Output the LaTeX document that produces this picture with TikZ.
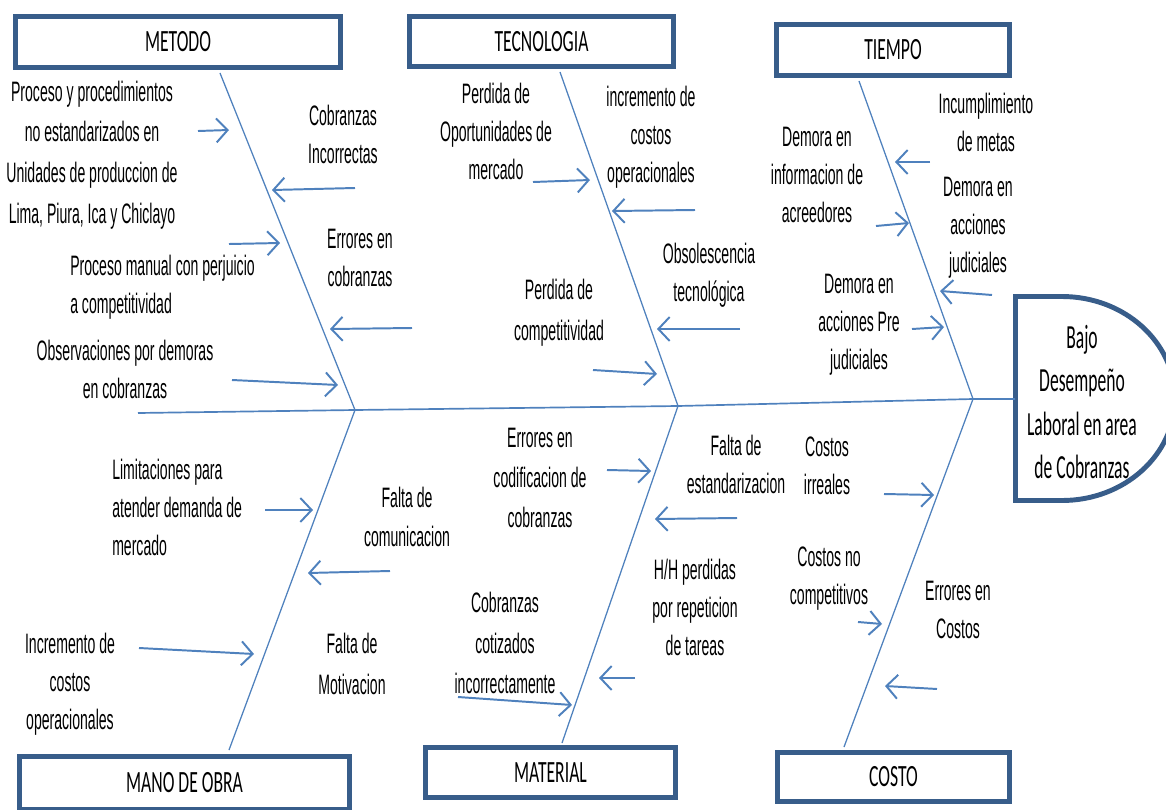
\documentclass[tikz,border=0pt]{standalone}
\usepackage{fontspec}
\setmainfont[FakeStretch=0.5]{Liberation Sans}
\newfontfamily\boxfont[FakeStretch=0.57]{Carlito}
\newfontfamily\headfont[FakeStretch=0.52]{Carlito}
\usetikzlibrary{arrows.meta,calc}
\definecolor{bonecol}{HTML}{4F81BD}
\definecolor{framecol}{HTML}{385D8A}

\begin{document}
\begin{tikzpicture}[x=0.025cm,y=-0.025cm,
    bone/.style={draw=bonecol, line width=0.9pt},
    cause/.style={draw=bonecol, line width=1.4pt, -{Straight Barb[length=8pt,width=17pt]}},
    catbox/.style={draw=framecol, line width=3.5pt, fill=white, inner sep=0pt,
      font=\boxfont\fontsize{22}{26}\selectfont},
    txt/.style={align=center, inner sep=0pt, font=\fontsize{20}{27}\selectfont}]
  \useasboundingbox (0,0) rectangle (1166,810);
  \clip (0,0) rectangle (1166,810);

  % head
  \draw[framecol, line width=3.5pt] (1015.5,296.5) -- (1062,296.5)
    arc[start angle=-90, end angle=90, x radius=113, y radius=102] -- (1015.5,500.5) -- cycle;
  \node[inner sep=0pt, align=center, font=\headfont\fontsize{24}{31}\selectfont] (efecto) at (1082,402)
    {Bajo\\Desempeño\\Laboral en area\\de Cobranzas};

  % categories
  \node[catbox, minimum width=8.125cm, minimum height=1.275cm] (metodo) at (178,42) {METODO};
  \node[catbox, minimum width=6.6cm, minimum height=1.25cm] (tecnologia) at (541.5,41.5) {TECNOLOGIA};
  \node[catbox, minimum width=5.825cm, minimum height=1.275cm] (tiempo) at (893,50) {TIEMPO};
  \node[catbox, minimum width=8.25cm, minimum height=1.325cm] (mano) at (184.5,783) {MANO DE OBRA};
  \node[catbox, minimum width=6.25cm, minimum height=1.25cm] (material) at (550.5,772.5) {MATERIAL};
  \node[catbox, minimum width=5.8cm, minimum height=1.225cm] (costo) at (893.5,777) {COSTO};

  % spine and bones
  \coordinate (cola) at (138,413);
  \coordinate (j1) at (355,410);
  \coordinate (j2) at (678,406);
  \coordinate (j3) at (973,399);
  \coordinate (boca) at (1015,399);
  \draw[bone, line width=1.2pt] (cola) -- (j1) -- (j2) -- (j3) -- (boca);
  \draw[bone] ($(metodo.south)+(42,3)$) -- (j1);
  \draw[bone] ($(tecnologia.south)+(18.5,3)$) -- (j2);
  \draw[bone] ($(tiempo.south)+(-34,3)$) -- (j3);
  \draw[bone] ($(mano.north)+(44.5,-4)$) -- (j1);
  \draw[bone] ($(material.north)+(11.5,-2)$) -- (j2);
  \draw[bone] ($(costo.north)+(-49.5,-3)$) -- (j3);

  % causes
  \node[txt, font=\fontsize{20}{29}\selectfont] (t1) at (92,155)
    {Proceso y procedimientos\\no estandarizados en\\Unidades de produccion de\\Lima, Piura, Ica y Chiclayo};
  \node[txt] (t2) at (343,134) {Cobranzas\\Incorrectas};
  \node[txt] (t3) at (360,258) {Errores en\\cobranzas};
  \node[txt, align=left, anchor=west] (t4) at (70,287) {Proceso manual con perjuicio\\a competitividad};
  \node[txt] (t5) at (125,369) {Observaciones por demoras\\en cobranzas};
  \node[txt] (t6) at (496,131) {Perdida de\\Oportunidades de\\mercado};
  \node[txt] (t7) at (651,137) {incremento de\\costos\\operacionales};
  \node[txt] (t8) at (709,275) {Obsolescencia\\tecnológica};
  \node[txt, font=\fontsize{20}{29}\selectfont] (t9) at (559,313) {Perdida de\\competitividad};
  \node[txt] (t10) at (986,122) {Incumplimiento\\de metas};
  \node[txt] (t11) at (817,175) {Demora en\\informacion de\\acreedores};
  \node[txt] (t12) at (978,228) {Demora en\\acciones\\judiciales};
  \node[txt] (t13) at (859,325) {Demora en\\acciones Pre\\judiciales};
  \node[txt, align=left, anchor=west] (t14) at (112,507) {Limitaciones para\\atender demanda de\\mercado};
  \node[txt, font=\fontsize{20}{28}\selectfont] (t15) at (407,517) {Falta de\\comunicacion};
  \node[txt] (t16) at (70,684) {Incremento de\\costos\\operacionales};
  \node[txt, font=\fontsize{20}{29}\selectfont] (t17) at (352,664) {Falta de\\Motivacion};
  \node[txt, font=\fontsize{20}{28.5}\selectfont] (t18) at (540,478) {Errores en\\codificacion de\\cobranzas};
  \node[txt] (t19) at (736,464) {Falta de\\estandarizacion};
  \node[txt] (t20) at (695,607) {H/H perdidas\\por repeticion\\de tareas};
  \node[txt, font=\fontsize{20}{28.5}\selectfont] (t21) at (505,643) {Cobranzas\\cotizados\\incorrectamente};
  \node[txt] (t22) at (827,466) {Costos\\irreales};
  \node[txt] (t23) at (829,579) {Costos no\\competitivos};
  \node[txt] (t24) at (958,610) {Errores en\\Costos};

  % arrows
  \foreach \i/\xa/\ya/\xb/\yb in {1/198/131/229/130, 2/355/188/272/190, 3/229/244/280/243,
      4/412/328/330/329, 5/232/380/338/385, 6/533/182/590/180, 7/695/210/612/211,
      8/740/329/657/329, 9/593/370/657/374, 10/930/162/895/162, 11/876/226/909/223,
      12/992/295/940/291, 13/912/329/944/327, 14/265/510/313/510, 15/390/571/308/573,
      16/139/648/254/654, 17/607/470/651/471, 18/737/518/655/519, 19/635/678/599/678,
      20/458/697/572/705, 21/884/494/934/495, 22/858/622/882/624, 23/937/689/885/686} {
    \coordinate (c\i) at (\xa,\ya);
    \coordinate (f\i) at (\xb,\yb);
    \path (c\i) edge[cause] (f\i);
  }
\end{tikzpicture}
\end{document}
